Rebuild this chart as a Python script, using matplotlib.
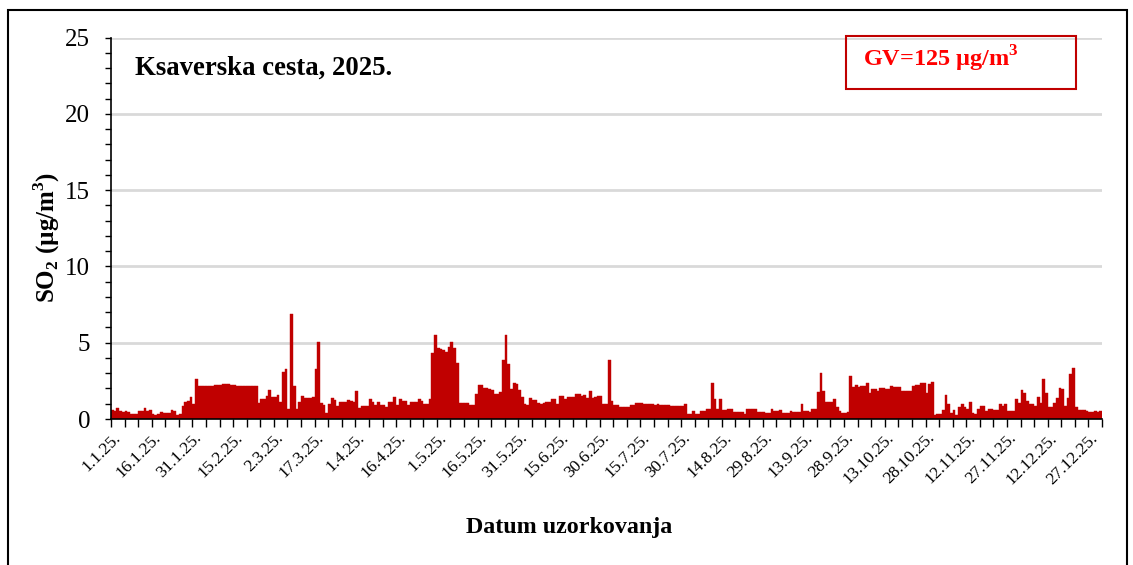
import matplotlib
matplotlib.use("Agg")
import matplotlib.pyplot as plt
from matplotlib.patches import Rectangle
from matplotlib.ticker import FixedLocator, MultipleLocator

plt.rcParams['font.family'] = ['Liberation Serif', 'DejaVu Serif']
plt.rcParams['mathtext.fontset'] = 'custom'
plt.rcParams['mathtext.rm'] = 'Liberation Serif'
plt.rcParams['mathtext.bf'] = 'Liberation Serif:bold'

# Daily SO2 values (µg/m3), 1.1.2025 - 31.12.2025
so2_jan_mar = [0.6, 0.55, 0.7, 0.5, 0.45, 0.5, 0.45, 0.3, 0.35, 0.35,
               0.5, 0.55, 0.75, 0.5, 0.62, 0.3, 0.25, 0.3, 0.48, 0.4,
               0.42, 0.42, 0.6, 0.5, 0.25, 0.3, 0.85, 1.1, 1.2, 1.45,
               1.0, 2.6, 2.15, 2.18, 2.15, 2.17, 2.15, 2.18, 2.2, 2.2,
               2.25, 2.3, 2.28, 2.32, 2.25, 2.25, 2.18, 2.16, 2.16, 2.16,
               2.16, 2.16, 2.16, 2.16, 1.07, 1.3, 1.3, 1.5, 1.9, 1.45,
               1.45, 1.55, 1.1, 3.1, 3.3, 0.63, 6.88, 2.16, 0.63, 1.1,
               1.5, 1.4, 1.35, 1.4, 1.45, 3.25, 5.05, 1.07, 0.9, 0.4,
               1.0, 1.35, 1.25, 0.85, 1.1, 1.1, 1.1, 1.25, 1.15, 1.1]
so2_apr_jun = [1.83, 0.7, 0.87, 0.87, 0.87, 1.33, 1.13, 0.9, 1.13, 0.92,
               0.92, 0.8, 1.1, 1.1, 1.42, 0.92, 1.29, 1.18, 1.18, 0.9,
               1.1, 1.1, 1.1, 1.3, 1.18, 0.96, 0.96, 1.29, 4.35, 5.48,
               4.63, 4.6, 4.5, 4.4, 4.73, 5.05, 4.63, 3.65, 1.07, 1.05,
               1.05, 1.03, 0.9, 0.9, 1.62, 2.23, 2.2, 2.0, 2.0, 1.95,
               1.9, 1.64, 1.64, 1.8, 3.86, 5.48, 3.58, 1.95, 2.34, 2.3,
               1.9, 1.42, 0.96, 0.92, 1.35, 1.24, 1.24, 1.07, 0.96, 1.07,
               1.13, 1.13, 1.31, 1.31, 0.96, 1.53, 1.53, 1.31, 1.46, 1.46,
               1.46, 1.62, 1.62, 1.5, 1.57, 1.4, 1.83, 1.35, 1.46, 1.5, 1.5]
so2_jul_sep = [0.96, 0.96, 3.86, 1.2, 0.92, 0.92, 0.8, 0.8, 0.8, 0.8,
               0.92, 0.92, 1.07, 1.07, 1.07, 0.98, 0.98, 0.98, 0.98, 0.92,
               0.98, 0.9, 0.9, 0.9, 0.9, 0.85, 0.85, 0.85, 0.85, 0.85,
               0.96, 0.33, 0.33, 0.52, 0.33, 0.33, 0.55, 0.55, 0.63, 0.63,
               2.38, 1.29, 0.63, 1.33, 0.59, 0.59, 0.63, 0.63, 0.48, 0.48,
               0.48, 0.48, 0.33, 0.63, 0.63, 0.63, 0.63, 0.48, 0.48, 0.48,
               0.37, 0.37, 0.63, 0.52, 0.52, 0.59, 0.41, 0.41, 0.41, 0.55,
               0.48, 0.48, 0.48, 0.98, 0.55, 0.55, 0.48, 0.63, 0.63, 1.8,
               3.03, 1.86, 1.13, 1.13, 1.13, 1.29, 0.8, 0.52, 0.41, 0.41, 0.48, 2.82]
so2_oct_dec = [2.07, 2.23, 2.07, 2.16, 2.16, 2.34, 1.72, 1.94, 1.94, 1.86,
               2.05, 2.05, 1.94, 1.94, 2.16, 2.07, 2.07, 2.07, 1.86, 1.86,
               1.86, 1.86, 2.16, 2.23, 2.23, 2.34, 2.38, 1.72, 2.29, 2.45,
               0.26, 0.3, 0.3, 0.59, 1.57, 0.98, 0.41, 0.59, 0.26, 0.76,
               0.98, 0.8, 0.63, 1.13, 0.41, 0.33, 0.63, 0.85, 0.85, 0.52,
               0.63, 0.63, 0.59, 0.59, 0.98, 0.85, 0.98, 0.55, 0.55, 0.55,
               1.29, 1.03, 1.9, 1.68, 1.18, 0.98, 0.98, 0.85, 1.42, 1.07,
               2.6, 1.68, 0.76, 0.76, 1.07, 1.35, 2.0, 1.95, 0.85, 1.35,
               2.95, 3.32, 0.76, 0.59, 0.59, 0.59, 0.55, 0.48, 0.48, 0.5,
               0.48, 0.55]
so2 = so2_jan_mar + so2_apr_jun + so2_jul_sep + so2_oct_dec

tick_labels = ["1.1.25.", "16.1.25.", "31.1.25.", "15.2.25.", "2.3.25.",
               "17.3.25.", "1.4.25.", "16.4.25.", "1.5.25.", "16.5.25.",
               "31.5.25.", "15.6.25.", "30.6.25.", "15.7.25.", "30.7.25.",
               "14.8.25.", "29.8.25.", "13.9.25.", "28.9.25.", "13.10.25.",
               "28.10.25.", "12.11.25.", "27.11.25.", "12.12.25.", "27.12.25."]

title = "Ksaverska cesta, 2025."
limit_label = r"GV=125 µg/m$^\mathbf{3}$"
y_title = r"SO$_\mathbf{2}$ (µg/m$^\mathbf{3}$)"
x_title = "Datum uzorkovanja"

W, H = 1133, 565
fig = plt.figure(figsize=(W / 100, H / 100), dpi=100)
ax = fig.add_axes([111 / W, 1 - 419 / H, (1102 - 111) / W, (419 - 37.6) / H])

days = list(range(len(so2)))
ax.bar(days, so2, width=1.0, color='#C00000', edgecolor='#C00000', linewidth=0.3, zorder=3)

ax.set_xlim(-0.5, len(so2) - 0.5)
ax.set_ylim(0, 25)
ax.yaxis.set_major_locator(MultipleLocator(5))
ax.yaxis.set_minor_locator(MultipleLocator(1))
ax.grid(axis='y', which='major', color='#d9d9d9', linewidth=2, zorder=0)

label_pos = [15 * i for i in range(len(tick_labels))]
ax.xaxis.set_major_locator(FixedLocator(label_pos))
ax.set_xticklabels(tick_labels, rotation=45, ha='right', va='top',
                   rotation_mode='anchor', fontsize=12.5)
ax.xaxis.set_minor_locator(FixedLocator([-0.5 + 5 * i for i in range(74)]))
ax.tick_params(axis='x', which='major', length=0, pad=8)
ax.tick_params(axis='x', which='minor', length=6, width=1, direction='out')
ax.tick_params(axis='y', which='both', length=4, width=1, direction='out')
ax.tick_params(axis='y', which='major', labelsize=18, pad=11)

for s in ['top', 'right']:
    ax.spines[s].set_visible(False)
for s in ['left', 'bottom']:
    ax.spines[s].set_linewidth(1.2)
    ax.spines[s].set_zorder(4)

fig.text(47 / W, 1 - 237 / H, y_title, fontsize=18, fontweight='bold',
         rotation=90, ha='center', va='center')
fig.text(569.5 / W, 1 - 528 / H, x_title, fontsize=17.3, fontweight='bold',
         ha='center', va='center')

fig.text(135 / W, 1 - 68 / H, title, fontsize=19.3, fontweight='bold', va='center', ha='left')

fig.patches.append(Rectangle((846 / W, 1 - 89 / H), (1076 - 846) / W, (89 - 36) / H,
                             transform=fig.transFigure, fill=False,
                             edgecolor='#C00000', linewidth=1.5))
fig.text(863 / W, 1 - 59 / H, limit_label, fontsize=17.5, fontweight='bold',
         color='#FF0000', va='center', ha='left')

fig.patches.append(Rectangle((8 / W, -0.05), (1127 - 8) / W, 1 - 10 / H + 0.05,
                             transform=fig.transFigure, fill=False,
                             edgecolor='black', linewidth=1.5))

fig.savefig("out.png", dpi=100)
